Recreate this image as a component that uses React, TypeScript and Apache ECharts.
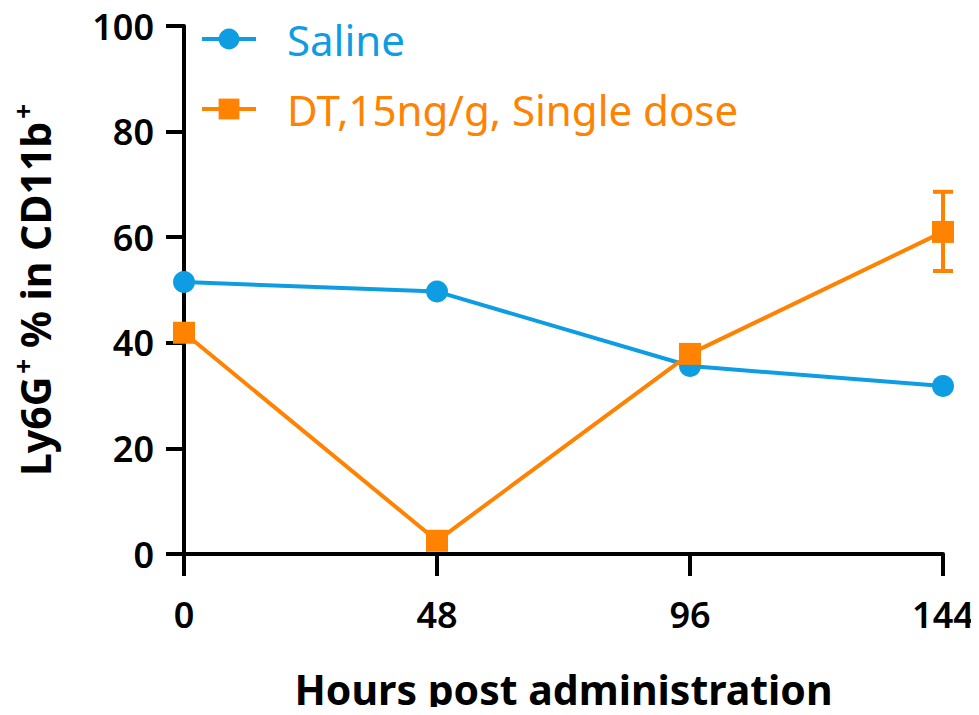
import React, { useEffect, useRef } from "react";
import * as echarts from "echarts";

const hours = [0, 48, 96, 144];
const salineValues = [51.5, 49.7, 35.6, 31.8];
const dtValues = [41.9, 2.5, 37.9, 61.0];
const dtErrLow = [null, null, null, 53.6];
const dtErrHigh = [null, null, null, 68.6];
const xTicks = [0, 48, 96, 144];
const yTicks = [0, 20, 40, 60, 80, 100];

const BLUE = "#0e9de2";
const ORANGE = "#ff8200";
const FONT = "Noto Sans";

export default function App() {
  const ref = useRef<HTMLDivElement>(null);
  useEffect(() => {
    const chart = echarts.init(ref.current!, null, { renderer: "svg" });
    const errData = hours
      .map((h, i) => [h, dtErrLow[i], dtErrHigh[i]])
      .filter((d) => d[1] != null);
    chart.setOption({
      animation: false,
      backgroundColor: "#fff",
      grid: { left: 184, right: 36, top: 26, bottom: 161, containLabel: false },
      legend: {
        orient: "vertical",
        left: 200,
        top: 17,
        padding: 0,
        itemWidth: 54,
        itemHeight: 26,
        itemGap: 26,
        lineStyle: { width: 4 },
        data: [
          { name: "Saline", textStyle: { color: BLUE } },
          { name: "DT,15ng/g, Single dose", textStyle: { color: ORANGE } },
        ],
        textStyle: { fontFamily: FONT, fontSize: 42, lineHeight: 44, padding: [0, 0, 0, 26] },
      },
      xAxis: {
        type: "value",
        min: 0,
        max: 144,
        interval: 48,
        name: "Hours post administration",
        nameLocation: "middle",
        nameGap: 114,
        nameTextStyle: { fontFamily: FONT, fontSize: 41, fontWeight: "bold", color: "#000" },
        axisLine: { onZero: false, lineStyle: { color: "#000", width: 4 } },
        axisTick: { show: true, length: 22, lineStyle: { color: "#000", width: 4 } },
        axisLabel: {
          margin: 42,
          fontFamily: FONT,
          fontSize: 36,
          fontWeight: 600,
          color: "#000",
          customValues: xTicks,
        },
        splitLine: { show: false },
      },
      yAxis: {
        type: "value",
        min: 0,
        max: 100,
        interval: 20,
        name: "{b|Ly6G}{s|+}{b| % in CD11b}{s|+}",
        nameLocation: "middle",
        nameGap: 124,
        nameRotate: 90,
        nameTextStyle: {
          fontFamily: FONT,
          fontSize: 41,
          fontWeight: "bold",
          color: "#000",
          rich: {
            b: { fontFamily: FONT, fontSize: 41, fontWeight: "bold", color: "#000" },
            s: {
              fontFamily: FONT,
              fontSize: 26,
              fontWeight: "bold",
              color: "#000",
              verticalAlign: "top",
              padding: [0, 0, 24, 3],
            },
          },
        },
        axisLine: { show: true, lineStyle: { color: "#000", width: 4 } },
        axisTick: { show: true, length: 18, lineStyle: { color: "#000", width: 4 } },
        axisLabel: {
          margin: 30,
          fontFamily: FONT,
          fontSize: 36,
          fontWeight: 600,
          color: "#000",
          customValues: yTicks,
        },
        splitLine: { show: false },
      },
      series: [
        {
          name: "Saline",
          type: "line",
          data: hours.map((h, i) => [h, salineValues[i]]),
          symbol: "circle",
          symbolSize: 22,
          itemStyle: { color: BLUE },
          lineStyle: { color: BLUE, width: 4 },
          z: 3,
        },
        {
          name: "DT,15ng/g, Single dose",
          type: "line",
          data: hours.map((h, i) => [h, dtValues[i]]),
          symbol: "rect",
          symbolSize: 22,
          itemStyle: { color: ORANGE },
          lineStyle: { color: ORANGE, width: 4 },
          z: 4,
        },
        {
          name: "err",
          type: "custom",
          data: errData,
          z: 4,
          renderItem: (params: any, api: any) => {
            const x = api.value(0);
            const lo = api.coord([x, api.value(1)]);
            const hi = api.coord([x, api.value(2)]);
            const hw = 10;
            const style = { stroke: ORANGE, lineWidth: 4 };
            return {
              type: "group",
              children: [
                { type: "line", shape: { x1: lo[0], y1: lo[1], x2: hi[0], y2: hi[1] }, style },
                { type: "line", shape: { x1: lo[0] - hw, y1: lo[1], x2: lo[0] + hw, y2: lo[1] }, style },
                { type: "line", shape: { x1: hi[0] - hw, y1: hi[1], x2: hi[0] + hw, y2: hi[1] }, style },
              ],
            };
          },
        },
      ],
    });
    return () => chart.dispose();
  }, []);
  return <div ref={ref} style={{ width: 979, height: 715, margin: -8 }} />;
}
